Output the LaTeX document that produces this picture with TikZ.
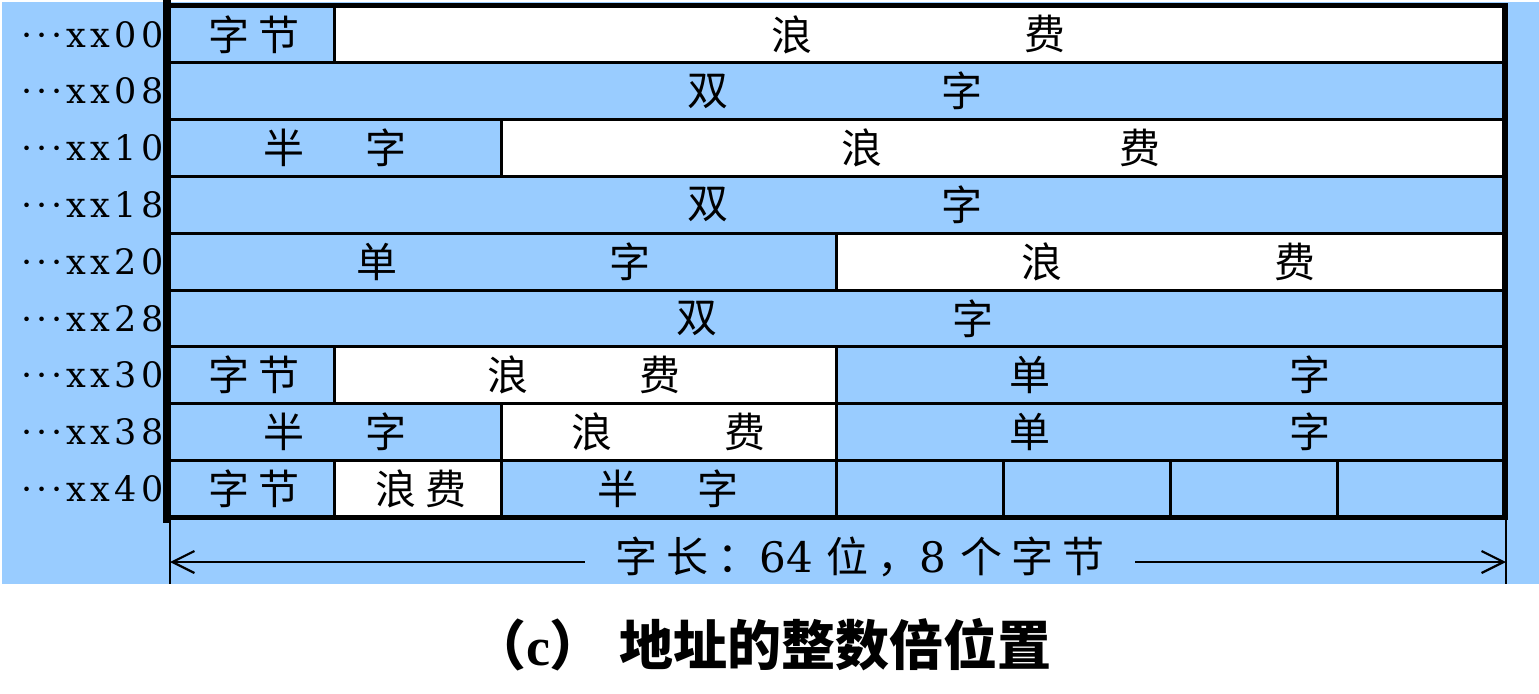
\documentclass[tikz,border=0pt]{standalone}
\usepackage{fontspec}
\setmainfont{DejaVu Serif}
\newfontfamily\cjk{Noto Sans CJK SC}
\newfontfamily\cjkw[LetterSpace=20]{Noto Sans CJK SC}
\newfontfamily\cjkww[LetterSpace=22]{Noto Sans CJK SC}
\newfontfamily\addrfont[LetterSpace=12]{DejaVu Serif}
\newfontfamily\capserif{Liberation Serif}
\usetikzlibrary{arrows.meta}
\definecolor{cellblue}{RGB}{153,204,255}
\tikzset{
  cellb/.style={draw=black, line width=1.5pt, fill=cellblue},
  cellw/.style={draw=black, line width=1.5pt, fill=white},
  ctext/.style={font=\cjk\fontsize{20.5pt}{22pt}\selectfont, inner sep=0pt},
  ptext/.style={font=\cjkw\fontsize{20.5pt}{22pt}\selectfont, inner sep=0pt},
  addr/.style={font=\addrfont\fontsize{17.5pt}{19pt}\selectfont, anchor=east, inner sep=0pt},
  frame/.style={draw=black, line cap=rect},
}
\begin{document}
\begin{tikzpicture}[x=0.5pt, y=-0.5pt]
\useasboundingbox (0,0) rectangle (1539,693);
\fill[white] (0,0) rectangle (1539,693);
\fill[cellblue] (2,2) rectangle (1539,584);
% column edges
\def\ca{167}\def\cb{334.25}\def\cc{501.5}\def\cd{668.75}\def\ce{836}
\def\cf{1003.25}\def\cg{1170.5}\def\ch{1337.75}\def\ci{1505}
% row edges
\def\ra{6}\def\rb{62.8}\def\rc{119.6}\def\rd{176.4}\def\re{233.2}
\def\rf{290}\def\rg{346.8}\def\rh{403.6}\def\ri{460.4}\def\rj{517.2}
% row 0
\path[cellb] (\ca,\ra) rectangle (\cb,\rb);
\path[cellw] (\cb,\ra) rectangle (\ci,\rb);
% row 1
\path[cellb] (\ca,\rb) rectangle (\ci,\rc);
% row 2
\path[cellb] (\ca,\rc) rectangle (\cc,\rd);
\path[cellw] (\cc,\rc) rectangle (\ci,\rd);
% row 3
\path[cellb] (\ca,\rd) rectangle (\ci,\re);
% row 4
\path[cellb] (\ca,\re) rectangle (\ce,\rf);
\path[cellw] (\ce,\re) rectangle (\ci,\rf);
% row 5
\path[cellb] (\ca,\rf) rectangle (\ci,\rg);
% row 6
\path[cellb] (\ca,\rg) rectangle (\cb,\rh);
\path[cellw] (\cb,\rg) rectangle (\ce,\rh);
\path[cellb] (\ce,\rg) rectangle (\ci,\rh);
% row 7
\path[cellb] (\ca,\rh) rectangle (\cc,\ri);
\path[cellw] (\cc,\rh) rectangle (\ce,\ri);
\path[cellb] (\ce,\rh) rectangle (\ci,\ri);
% row 8
\path[cellb] (\ca,\ri) rectangle (\cb,\rj);
\path[cellw] (\cb,\ri) rectangle (\cc,\rj);
\path[cellb] (\cc,\ri) rectangle (\ce,\rj);
\path[cellb] (\ce,\ri) rectangle (\cf,\rj);
\path[cellb] (\cf,\ri) rectangle (\cg,\rj);
\path[cellb] (\cg,\ri) rectangle (\ch,\rj);
\path[cellb] (\ch,\ri) rectangle (\ci,\rj);
% thick outer frame
\draw[frame, line width=4pt] (\ca,3) -- (\ca,519);
\draw[frame, line width=2.8pt] (\ca,5.5) -- (\ci,5.5);
\draw[frame, line width=3pt] (\ci,5.5) -- (\ci,517.2);
\draw[frame, line width=2.6pt] (\ca,517.2) -- (\ci,517.2);
% address labels
\foreach \lab/\yy in {00/34.4, 08/91.2, 10/148, 18/204.8, 20/261.6, 28/318.4, 30/375.2, 38/432, 40/488.8}
  \node[addr] (a\lab) at (164,\yy) {···xx\lab};
% cell texts
\node[ptext] (t0a) at (254,34.4) {字节};
\node[ctext] (t0b) at (792,34.4) {浪};
\node[ctext] (t0c) at (1045,34.4) {费};
\node[ctext] (t1a) at (708,91.2) {双};
\node[ctext] (t1b) at (962,91.2) {字};
\node[ctext] (t2a) at (284,148) {半};
\node[ctext] (t2b) at (386,148) {字};
\node[ctext] (t2c) at (862,148) {浪};
\node[ctext] (t2d) at (1140,148) {费};
\node[ctext] (t3a) at (708,204.8) {双};
\node[ctext] (t3b) at (962,204.8) {字};
\node[ctext] (t4a) at (377,261.6) {单};
\node[ctext] (t4b) at (630,261.6) {字};
\node[ctext] (t4c) at (1042,261.6) {浪};
\node[ctext] (t4d) at (1295,261.6) {费};
\node[ctext] (t5a) at (697,318.4) {双};
\node[ctext] (t5b) at (973,318.4) {字};
\node[ptext] (t6a) at (254,375.2) {字节};
\node[ctext] (t6b) at (508,375.2) {浪};
\node[ctext] (t6c) at (660,375.2) {费};
\node[ctext] (t6d) at (1030,375.2) {单};
\node[ctext] (t6e) at (1310,375.2) {字};
\node[ctext] (t7a) at (284,432) {半};
\node[ctext] (t7b) at (386,432) {字};
\node[ctext] (t7c) at (592,432) {浪};
\node[ctext] (t7d) at (745,432) {费};
\node[ctext] (t7e) at (1030,432) {单};
\node[ctext] (t7f) at (1310,432) {字};
\node[ptext] (t8a) at (254,488.8) {字节};
\node[ptext] (t8b) at (421,488.8) {浪费};
\node[ctext] (t8c) at (618,488.8) {半};
\node[ctext] (t8d) at (718,488.8) {字};
% word length dimension
\coordinate (la) at (170,517.2);
\coordinate (lb) at (170,584);
\coordinate (ra) at (1506,517.2);
\coordinate (rb) at (1506,584);
\coordinate (al) at (170,562);
\coordinate (ar) at (1506,562);
\draw[line width=1.1pt] (la) -- (lb);
\draw[line width=1.1pt] (ra) -- (rb);
\draw[line width=1.1pt, {Straight Barb[length=11pt,width=11pt,line width=1.1pt]}-{Straight Barb[length=11pt,width=11pt,line width=1.1pt]}] (al) -- (ar);
\node[fill=cellblue, inner xsep=15pt, inner ysep=2pt, font=\fontsize{21pt}{23pt}\selectfont] (wl) at (860,557)
  {{\cjkww 字长：}64 {\cjkww 位，}8 {\cjkww 个字节}};
% caption
\node[font=\fontsize{27pt}{30pt}\selectfont\bfseries] (cap) at (762,645)
  {{\cjk （}{\capserif c}{\cjk ）}\hspace{8pt}{\cjk 地址的整数倍位置}};
\end{tikzpicture}
\end{document}
